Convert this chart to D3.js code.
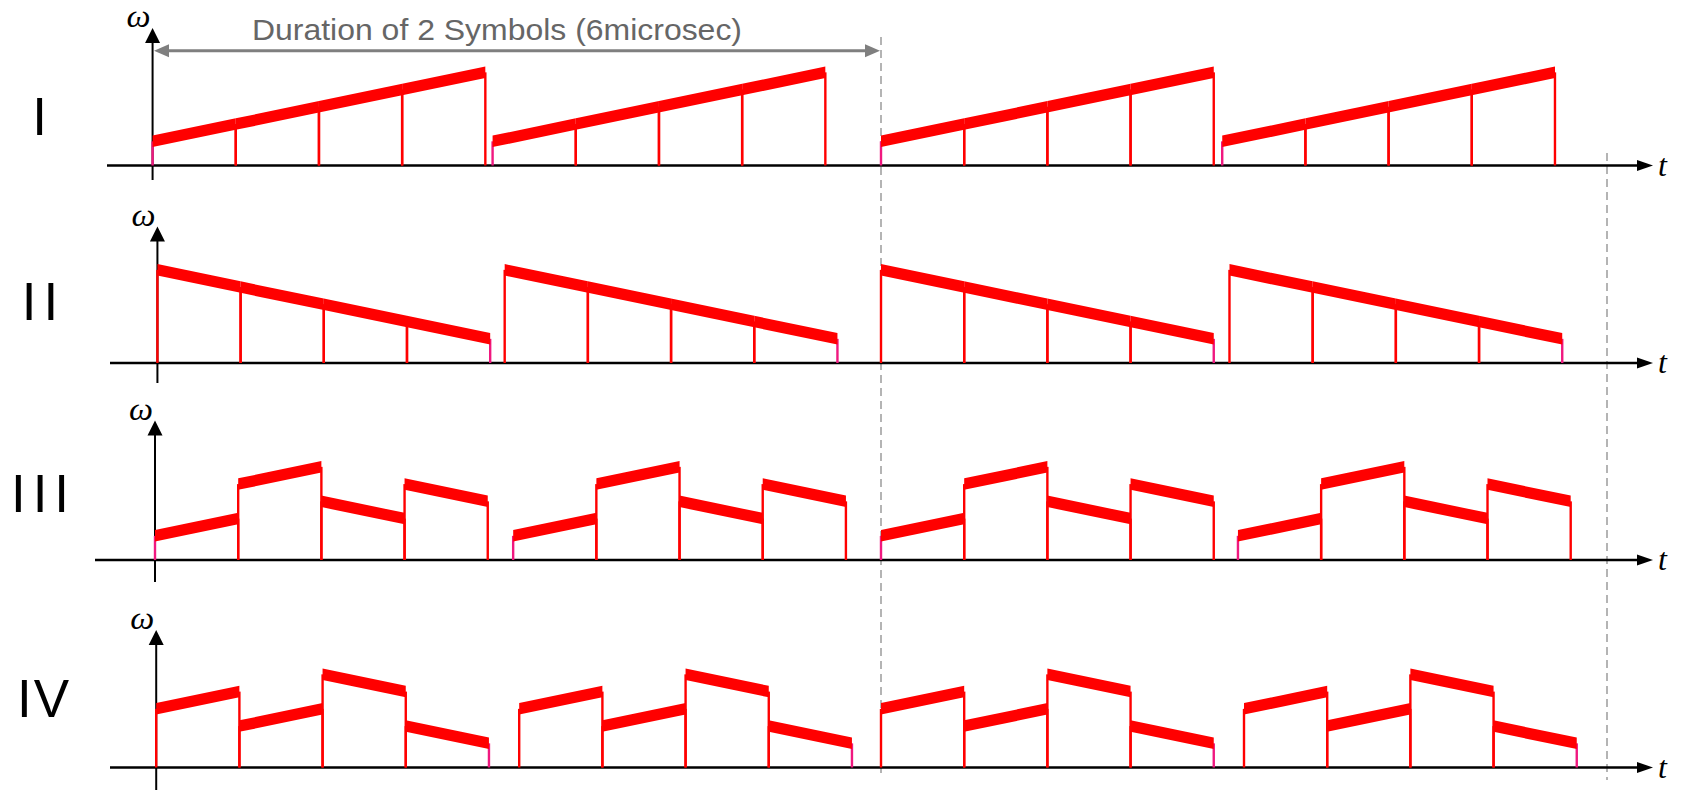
<!DOCTYPE html>
<html><head><meta charset="utf-8">
<script src="https://cdn.jsdelivr.net/npm/d3@7"></script>
<style>html,body{margin:0;padding:0;background:#fff;} svg{display:block;}</style>
</head><body>
<svg id="chart" width="1685" height="793"></svg>
<script>
// ---------------- data ----------------
const panelLabels = ["I", "II", "III", "IV"];
// start time (µs) of each of the four symbols drawn in each panel
const symbolStartsI   = [-0.02, 2.79, 6.0, 8.82];
const symbolStartsII  = [0.02, 2.89, 6.0, 8.88];
const symbolStartsIII = [0.0, 2.96, 6.0, 8.95];
const symbolStartsIV  = [0.01, 3.01, 6.0, 9.0];
const symbolDuration = 2.75;      // µs, length of one chirp symbol
const quartersPerSymbol = 4;
// frequency [start, end] of each quarter of a symbol (relative units, 0 = time axis)
const chirpI   = [[1.4, 2.4], [2.4, 3.4], [3.4, 4.4], [4.4, 5.4]];
const chirpII  = [[5.4, 4.4], [4.4, 3.4], [3.4, 2.4], [2.4, 1.4]];
const chirpIII = [[1.4, 2.4], [4.4, 5.4], [3.4, 2.4], [4.4, 3.4]];
const chirpIV  = [[3.4, 4.4], [2.4, 3.4], [5.4, 4.4], [2.4, 1.4]];
const timeDomain = [0, 6];        // µs
const freqDomain = [0, 5.4];
const durationSpan = [0, 6];      // µs, "2 symbols"
const durationLabel = "Duration of 2 Symbols (6microsec)";
const boundaryTimes = [6, 12];    // µs, dashed guide lines
const yAxisLabel = "ω";
const xAxisLabel = "t";

const symbolStarts = [symbolStartsI, symbolStartsII, symbolStartsIII, symbolStartsIV];
const chirps = [chirpI, chirpII, chirpIII, chirpIV];

// ---------------- layout ----------------
const svg = d3.select("#chart");
svg.append("rect").attr("width", 1685).attr("height", 793).attr("fill", "#fff");

const x = d3.scaleLinear().domain(timeDomain).range([155, 881]);
const axisY = [165.5, 363, 560, 767.5];
const axisStartX = [107, 110, 95, 110];
const arrowTipX = 1653;
const yArrowTip = [28, 226.5, 420.5, 630];
const yAxisBottom = [180, 383, 582, 790];
const bandHeight = 93.15;
const lineThick = 11.5;
const red = "#ff0000", pink = "#f0187f";
const minF = d3.min(chirps.flat(2));

// dashed guides
const guideTop = [37, 153], guideBottom = [776, 780];
boundaryTimes.forEach((t, i) => {
  svg.append("line")
    .attr("x1", x(t)).attr("x2", x(t))
    .attr("y1", guideTop[i]).attr("y2", guideBottom[i])
    .attr("stroke", "#b4b4b4").attr("stroke-width", 2)
    .attr("stroke-dasharray", "8,5");
});

// duration arrow
const durY = 50.7, grey = "#7f7f7f";
const dx0 = x(durationSpan[0]) - 1, dx1 = x(durationSpan[1]) - 1;
svg.append("line").attr("x1", dx0 + 10).attr("x2", dx1 - 10)
  .attr("y1", durY).attr("y2", durY).attr("stroke", grey).attr("stroke-width", 3);
svg.append("path").attr("fill", grey)
  .attr("d", `M${dx0},${durY} L${dx0 + 15},${durY - 6.5} L${dx0 + 15},${durY + 6.5} Z`);
svg.append("path").attr("fill", grey)
  .attr("d", `M${dx1},${durY} L${dx1 - 15},${durY - 6.5} L${dx1 - 15},${durY + 6.5} Z`);
svg.append("text").text(durationLabel)
  .attr("x", 497).attr("y", 39.5).attr("text-anchor", "middle")
  .attr("font-family", "'Liberation Sans', Arial, sans-serif").attr("font-size", 30)
  .attr("textLength", 490).attr("lengthAdjust", "spacingAndGlyphs")
  .attr("fill", "#666666");

const area = d3.area()
  .x(d => d.x)
  .y0(d => d.y + lineThick / 2)
  .y1(d => d.y - lineThick / 2);

const labelBaseline = [135, 320, 512, 717];
const labelCenter = [39.5, 40, 40, 43];

panelLabels.forEach((lab, p) => {
  const g = svg.append("g");
  const y = d3.scaleLinear().domain(freqDomain).range([axisY[p], axisY[p] - bandHeight]);
  const ax = x(symbolStarts[p][0]);

  // roman label
  g.append("text").text(lab)
    .attr("x", labelCenter[p]).attr("y", labelBaseline[p])
    .attr("text-anchor", "middle")
    .attr("font-family", "'Liberation Sans', Arial, sans-serif")
    .attr("font-size", 53)
    .attr("letter-spacing", lab === "IV" ? 2 : 7)
    .attr("dx", lab === "IV" ? 1 : 3.5)
    .attr("fill", "#000");

  // x axis
  g.append("line").attr("x1", axisStartX[p]).attr("x2", arrowTipX - 12)
    .attr("y1", axisY[p]).attr("y2", axisY[p])
    .attr("stroke", "#000").attr("stroke-width", 2.5);
  g.append("path").attr("fill", "#000")
    .attr("d", `M${arrowTipX},${axisY[p]} L${arrowTipX - 16},${axisY[p] - 5.5} L${arrowTipX - 16},${axisY[p] + 5.5} Z`);
  g.append("text").text(xAxisLabel)
    .attr("x", 1658).attr("y", axisY[p] + 10)
    .attr("font-family", "'Liberation Serif', 'Times New Roman', serif")
    .attr("font-style", "italic").attr("font-size", 32).attr("fill", "#000");

  // y axis
  g.append("line").attr("x1", ax).attr("x2", ax)
    .attr("y1", yAxisBottom[p]).attr("y2", yArrowTip[p] + 10)
    .attr("stroke", "#000").attr("stroke-width", 2);
  g.append("path").attr("fill", "#000")
    .attr("d", `M${ax},${yArrowTip[p]} L${ax - 7.5},${yArrowTip[p] + 15} L${ax + 7.5},${yArrowTip[p] + 15} Z`);
  g.append("text").text(yAxisLabel)
    .attr("x", ax - 14).attr("y", yArrowTip[p] - 1)
    .attr("text-anchor", "middle")
    .attr("font-family", "'Liberation Serif', 'Times New Roman', serif")
    .attr("font-style", "italic").attr("font-size", 32)
    .attr("textLength", 24).attr("lengthAdjust", "spacingAndGlyphs")
    .attr("fill", "#000");

  // chirp quarters
  const quarters = [];
  symbolStarts[p].forEach(s => {
    chirps[p].forEach((f, q) => {
      const t0 = s + symbolDuration * q / quartersPerSymbol;
      const t1 = s + symbolDuration * (q + 1) / quartersPerSymbol;
      quarters.push({ t0, t1, f0: f[0], f1: f[1] });
    });
  });

  // stems
  quarters.forEach(d => {
    [[d.t0, d.f0], [d.t1, d.f1]].forEach(([t, f]) => {
      g.append("line")
        .attr("x1", x(t)).attr("x2", x(t))
        .attr("y1", axisY[p]).attr("y2", y(f))
        .attr("stroke", f === minF ? pink : red)
        .attr("stroke-width", 2.4);
    });
  });

  // thick frequency bands
  g.selectAll("path.band").data(quarters).enter().append("path")
    .attr("class", "band")
    .attr("fill", red)
    .attr("d", d => area([{ x: x(d.t0), y: y(d.f0) }, { x: x(d.t1), y: y(d.f1) }]));
});
</script>
</body></html>
